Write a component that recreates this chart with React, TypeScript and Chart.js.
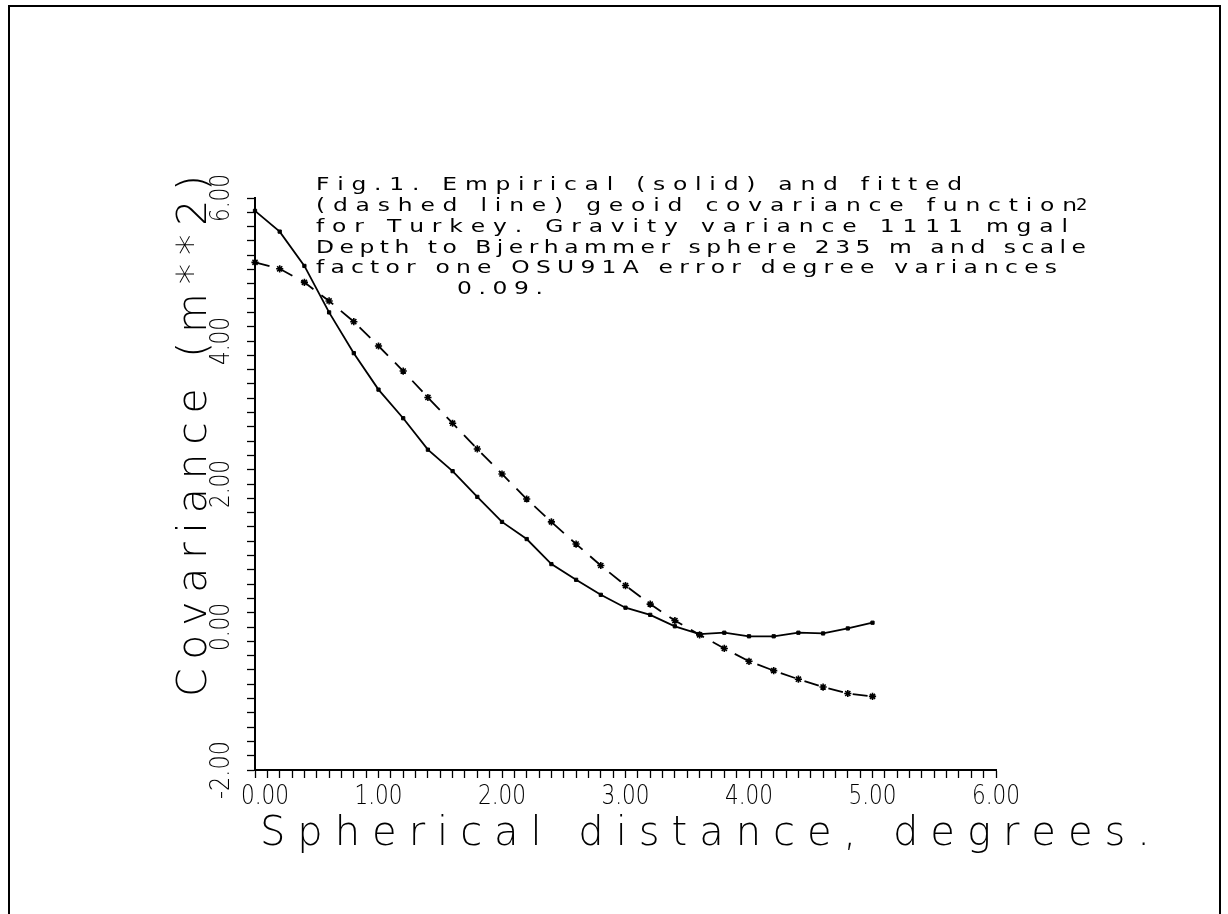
import React, { useEffect, useRef } from 'react';
import { Chart, registerables } from 'chart.js';

Chart.register(...registerables);

// ---- data ----
const distances = [0, 0.2, 0.4, 0.6, 0.8, 1.0, 1.2, 1.4, 1.6, 1.8, 2.0, 2.2, 2.4, 2.6, 2.8, 3.0, 3.2, 3.4, 3.6, 3.8, 4.0, 4.2, 4.4, 4.6, 4.8, 5.0];
const empirical = [5.82, 5.53, 5.05, 4.40, 3.83, 3.32, 2.92, 2.48, 2.18, 1.82, 1.47, 1.23, 0.88, 0.66, 0.45, 0.27, 0.17, 0.01, -0.10, -0.08, -0.13, -0.13, -0.08, -0.09, -0.02, 0.06];
const fitted = [5.10, 5.01, 4.82, 4.56, 4.27, 3.93, 3.58, 3.21, 2.85, 2.49, 2.14, 1.79, 1.47, 1.16, 0.86, 0.58, 0.32, 0.09, -0.11, -0.30, -0.48, -0.61, -0.73, -0.84, -0.93, -0.97];

const xTickValues = [0, 1, 2, 3, 4, 5, 6];
const xTickLabels = ['0.00', '1.00', '2.00', '3.00', '4.00', '5.00', '6.00'];
const yTickValues = [-2, 0, 2, 4, 6];
const yTickLabels = ['-2.00', '0.00', '2.00', '4.00', '6.00'];

const xTitle = 'Spherical distance, degrees.';
const yTitle = 'Covariance (m**2)';
const captionLines = [
  'Fig.1. Empirical (solid) and fitted',
  '(dashed line) geoid covariance function',
  'for Turkey. Gravity variance 1111 mgal',
  'Depth to Bjerhammer sphere 235 m and scale',
  'factor one OSU91A error degree variances',
  '0.09.',
];
const captionSuperscript = '2';

// ---- drawing helpers ----
const FAMILY = '"DejaVu Sans", "Liberation Sans", sans-serif';

function drawSpaced(
  ctx: CanvasRenderingContext2D,
  text: string,
  x: number,
  y: number,
  font: string,
  width: number,
  angle: number,
  sx = 1
) {
  ctx.save();
  ctx.translate(x, y);
  ctx.rotate(angle);
  ctx.font = font;
  ctx.textAlign = 'left';
  ctx.textBaseline = 'alphabetic';
  const chars = Array.from(text);
  const widths = chars.map((c) => ctx.measureText(c).width * sx);
  const natural = widths.reduce((a, b) => a + b, 0);
  const gap = chars.length > 1 ? (width - natural) / (chars.length - 1) : 0;
  let cx = 0;
  chars.forEach((c, i) => {
    ctx.save();
    ctx.translate(cx, 0);
    ctx.scale(sx, 1);
    ctx.fillText(c, 0, 0);
    ctx.restore();
    cx += widths[i] + gap;
  });
  ctx.restore();
}

function drawScaled(
  ctx: CanvasRenderingContext2D,
  text: string,
  cx: number,
  cy: number,
  font: string,
  width: number,
  angle: number
) {
  ctx.save();
  ctx.translate(cx, cy);
  ctx.rotate(angle);
  ctx.font = font;
  ctx.textAlign = 'center';
  ctx.textBaseline = 'alphabetic';
  const w = ctx.measureText(text).width;
  ctx.scale(width / w, 1);
  ctx.fillText(text, 0, 0);
  ctx.restore();
}

const plotterText = {
  id: 'plotterText',
  afterDraw(chart: any) {
    const ctx: CanvasRenderingContext2D = chart.ctx;
    const xs = chart.scales.x;
    const ys = chart.scales.y;
    ctx.save();
    ctx.fillStyle = '#000';

    const tickFont = `300 27px ${FAMILY}`;
    // x tick labels
    xTickValues.forEach((v, i) => {
      const px = xs.getPixelForValue(v) + (i === 0 ? 10 : 0);
      drawScaled(ctx, xTickLabels[i], px, xs.top + 34, tickFont, 48, 0);
    });
    // y tick labels (rotated, reading upward)
    yTickValues.forEach((v, i) => {
      drawScaled(ctx, yTickLabels[i], ys.left - 16, ys.getPixelForValue(v), tickFont, yTickLabels[i].length > 4 ? 58 : 48, -Math.PI / 2);
    });

    // axis titles
    drawSpaced(ctx, xTitle, 260, 845, `200 40px ${FAMILY}`, 890, 0);
    drawSpaced(ctx, yTitle, 206, 697, `200 41px ${FAMILY}`, 522, -Math.PI / 2);

    // caption
    const capFont = `18px ${FAMILY}`;
    const capLayout = [
      { x: 316, y: 190, w: 646 },
      { x: 316, y: 211, w: 761 },
      { x: 316, y: 232, w: 752 },
      { x: 316, y: 253, w: 770 },
      { x: 316, y: 273, w: 741 },
      { x: 457, y: 294, w: 86 },
    ];
    captionLines.forEach((line, i) => {
      const l = capLayout[i];
      drawSpaced(ctx, line, l.x, l.y, capFont, l.w, 0, 1.3);
    });
    ctx.save();
    ctx.font = `15px ${FAMILY}`;
    ctx.textAlign = 'left';
    ctx.translate(1076, 210);
    ctx.scale(1.2, 1);
    ctx.fillText(captionSuperscript, 0, 0);
    ctx.restore();
    ctx.restore();
  },
};

export default function App() {
  const canvasRef = useRef<HTMLCanvasElement | null>(null);

  useEffect(() => {
    const canvas = canvasRef.current;
    if (!canvas) return;
    const tickGrid = {
      display: true,
      drawOnChartArea: false,
      drawTicks: true,
      tickLength: 8,
      tickColor: '#000',
      tickWidth: 1.3,
    };
    const border = { display: true, color: '#000', width: 2 };
    const chart = new Chart(canvas, {
      type: 'line',
      data: {
        datasets: [
          {
            label: 'Empirical',
            data: distances.map((d, i) => ({ x: d, y: empirical[i] })),
            borderColor: '#000',
            borderWidth: 1.8,
            pointStyle: 'rect',
            pointRadius: 2.3,
            pointBackgroundColor: '#000',
            pointBorderColor: '#000',
            pointBorderWidth: 1,
            tension: 0,
            fill: false,
            clip: false,
          } as any,
          {
            label: 'Fitted',
            data: distances.map((d, i) => ({ x: d, y: fitted[i] })),
            borderColor: '#000',
            borderWidth: 1.8,
            borderDash: [15, 10],
            pointStyle: 'star',
            pointRadius: 3.6,
            pointBackgroundColor: '#000',
            pointBorderColor: '#000',
            pointBorderWidth: 1.6,
            tension: 0,
            fill: false,
            clip: false,
          } as any,
        ],
      },
      options: {
        animation: false,
        responsive: false,
        devicePixelRatio: 1,
        events: [],
        layout: { padding: { left: 245, right: 232, top: 198, bottom: 134 } },
        plugins: { legend: { display: false }, tooltip: { enabled: false }, title: { display: false } },
        scales: {
          x: {
            type: 'linear',
            position: 'bottom',
            min: 0,
            max: 6,
            ticks: { display: false, stepSize: 0.1, autoSkip: false, maxTicksLimit: 200 },
            grid: tickGrid,
            border,
            afterFit: (s: any) => {
              s.height = 10;
            },
          },
          y: {
            type: 'linear',
            position: 'left',
            min: -2,
            max: 6,
            ticks: { display: false, stepSize: 0.2, autoSkip: false, maxTicksLimit: 200 },
            grid: tickGrid,
            border,
            afterFit: (s: any) => {
              s.width = 10;
            },
          },
        },
      } as any,
      plugins: [plotterText],
    });
    return () => chart.destroy();
  }, []);

  return (
    <div style={{ position: 'fixed', left: 0, top: 0, width: 1228, height: 914, overflow: 'hidden', background: '#fff' }}>
      <div
        style={{
          position: 'absolute',
          left: 8,
          top: 5,
          width: 1213,
          height: 940,
          borderTop: '2px solid #000',
          borderLeft: '2px solid #000',
          borderRight: '2px solid #000',
          boxSizing: 'border-box',
        }}
      />
      <canvas ref={canvasRef} width={1228} height={914} style={{ position: 'absolute', left: 0, top: 0, display: 'block' }} />
    </div>
  );
}
